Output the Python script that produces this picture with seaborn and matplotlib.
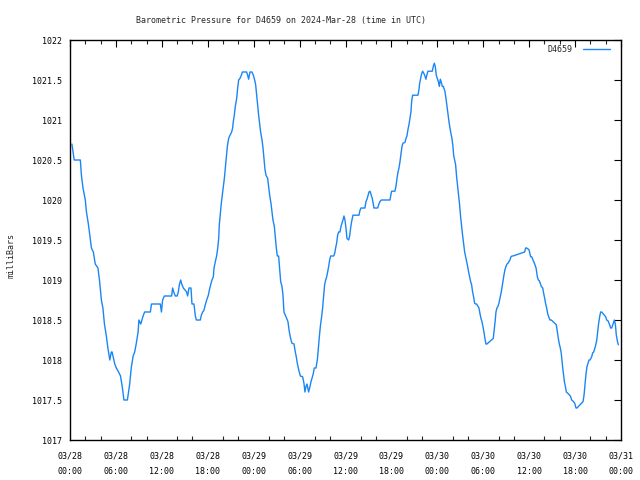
import numpy as np
import pandas as pd
import matplotlib
matplotlib.use("Agg")
import matplotlib.pyplot as plt
import seaborn as sns

# ---- data (hours since 2024-03-28 00:00 UTC, pressure in mbar) ----
hours = [
    0.25, 0.4, 0.55, 1.35, 1.5, 1.7, 2.0, 2.15, 2.4, 2.6, 2.8, 3.05, 3.3, 3.65, 3.85,
    4.1, 4.3, 4.5, 4.75, 4.95, 5.2, 5.4, 5.5, 5.85, 6.05, 6.35, 6.6, 6.85, 7.05, 7.5,
    7.65, 7.8, 8.0, 8.25, 8.45, 8.65, 8.9, 9.0, 9.25, 9.4, 9.55, 9.75, 10.5, 10.65,
    11.8, 11.95, 12.1,
    12.33, 13.28, 13.41, 13.55, 13.76, 14.0, 14.15, 14.29, 14.46, 14.6, 14.81, 15.24,
    15.37, 15.55, 15.81, 15.94, 16.2, 16.38, 16.51, 17.03, 17.16, 17.33, 17.5, 17.68,
    17.86, 18.08, 18.2, 18.38, 18.55, 18.73, 18.82, 18.99, 19.16, 19.29, 19.43, 19.51,
    19.64, 19.77, 19.9, 20.04, 20.17, 20.3, 20.43, 20.56, 20.73, 20.91, 21.12, 21.25,
    21.34, 21.47, 21.6, 21.78, 21.91, 22.04, 22.21, 22.39, 22.52, 23.08, 23.21, 23.34,
    23.52, 23.78, 23.96, 24.13, 24.26, 24.39, 24.52, 24.65, 24.78, 24.91, 25.09, 25.22,
    25.35, 25.48, 25.61, 25.83, 25.96, 26.09, 26.26, 26.39, 26.52, 26.7, 26.83, 26.96,
    27.09, 27.26, 27.39, 27.53, 27.7, 27.83, 27.96, 28.14, 28.31, 28.48, 28.66, 28.83,
    29.0, 29.27, 29.44, 29.57, 29.7, 29.88, 30.1, 30.4, 30.57, 30.7, 30.84, 30.97, 31.1,
    31.18, 31.36, 31.49, 31.62, 31.79, 31.92, 32.14, 32.32, 32.49, 32.62, 32.75, 32.88,
    33.01, 33.14, 33.27, 33.41, 33.54, 33.67, 33.8, 33.93, 34.06, 34.45, 34.58, 34.71,
    34.84, 34.97, 35.1, 35.28, 35.41, 35.54, 35.67, 35.8, 35.93, 36.06, 36.19, 36.41,
    36.54, 36.67, 36.8, 36.98, 37.76, 37.89, 38.02, 38.54, 38.67, 38.81, 39.07, 39.2,
    39.37, 39.5, 39.72, 40.2, 40.33, 40.5, 40.68, 41.81, 41.94, 42.03, 42.46, 42.59,
    42.73, 42.86, 42.99, 43.12, 43.25, 43.38, 43.51, 43.77, 43.9, 44.03, 44.16, 44.29,
    44.42, 44.55, 44.64, 44.77, 45.47, 45.6, 45.69, 45.82, 45.95, 46.08, 46.25, 46.38,
    46.51, 46.65, 46.78, 47.34, 47.47, 47.6, 47.73, 47.86, 47.99, 48.13, 48.26, 48.39,
    48.52, 48.65, 48.78, 48.99, 49.13, 49.26, 49.39, 49.52, 49.65, 49.78, 49.91, 50.04,
    50.13, 50.26, 50.39, 50.52, 50.65, 50.78, 50.91, 51.04, 51.17, 51.3, 51.44, 51.57,
    51.7, 51.83, 51.96, 52.09, 52.22, 52.35, 52.48, 52.61, 52.74, 52.87, 53.0, 53.13,
    53.44, 53.57, 53.7, 53.83, 53.96, 54.09, 54.22, 54.35, 54.48, 55.31, 55.44, 55.57,
    55.66, 55.79, 55.92, 56.05, 56.18, 56.31, 56.44, 56.57, 56.7, 56.84, 56.97, 57.1,
    57.23, 57.49, 57.62, 57.75, 57.88, 59.41, 59.54, 59.67, 59.97, 60.1, 60.2, 60.33,
    60.59, 60.72, 60.9, 61.07, 61.2, 61.33, 61.59, 61.77, 61.9, 62.03, 62.16, 62.29,
    62.42, 62.55, 62.72, 62.9, 63.55, 63.68, 63.81, 63.94, 64.07, 64.2, 64.34, 64.47,
    64.6, 64.73, 64.86, 64.99, 65.29, 65.42, 65.56, 65.69, 65.95, 66.12, 66.25, 67.04,
    67.17, 67.3, 67.43, 67.56, 67.69, 67.82, 67.95, 68.17, 68.3, 68.43, 68.65, 68.82,
    68.95, 69.08, 69.21, 69.34, 69.48, 70.0, 70.13, 70.3, 70.52, 70.65, 70.78, 71.0,
    71.13, 71.26, 71.39, 71.52, 71.65, 71.78,
]
pressure = [
    1020.7, 1020.6, 1020.5, 1020.5, 1020.3, 1020.15, 1020.0, 1019.85, 1019.7, 1019.55,
    1019.4, 1019.35, 1019.2, 1019.15, 1019.0, 1018.75, 1018.65, 1018.45, 1018.3,
    1018.15, 1018.0, 1018.1, 1018.1, 1017.95, 1017.9, 1017.85, 1017.8, 1017.65, 1017.5,
    1017.5, 1017.6, 1017.7, 1017.9, 1018.05, 1018.1, 1018.2, 1018.35, 1018.5, 1018.45,
    1018.5, 1018.55, 1018.6, 1018.6, 1018.7, 1018.7, 1018.6, 1018.75,
    1018.8, 1018.8, 1018.9, 1018.85, 1018.8, 1018.8, 1018.85, 1018.94, 1019.0, 1018.95,
    1018.9, 1018.85, 1018.8, 1018.9, 1018.9, 1018.7, 1018.7, 1018.55, 1018.5, 1018.5,
    1018.56, 1018.6, 1018.62, 1018.69, 1018.75, 1018.81, 1018.87, 1018.94, 1019.0,
    1019.04, 1019.15, 1019.23, 1019.3, 1019.39, 1019.52, 1019.69, 1019.83, 1019.96,
    1020.06, 1020.17, 1020.27, 1020.4, 1020.54, 1020.67, 1020.77, 1020.81, 1020.85,
    1020.9, 1020.98, 1021.06, 1021.17, 1021.27, 1021.4, 1021.5, 1021.52, 1021.56,
    1021.6, 1021.6, 1021.56, 1021.51, 1021.6, 1021.6, 1021.56, 1021.5, 1021.44,
    1021.31, 1021.17, 1021.06, 1020.96, 1020.85, 1020.75, 1020.65, 1020.52, 1020.38,
    1020.31, 1020.27, 1020.17, 1020.06, 1019.96, 1019.85, 1019.75, 1019.67, 1019.53,
    1019.4, 1019.3, 1019.3, 1019.15, 1018.98, 1018.92, 1018.81, 1018.6, 1018.56,
    1018.52, 1018.48, 1018.35, 1018.27, 1018.21, 1018.2, 1018.1, 1018.04, 1017.96,
    1017.88, 1017.8, 1017.79, 1017.71, 1017.6, 1017.67, 1017.7, 1017.64, 1017.6,
    1017.67, 1017.73, 1017.77, 1017.83, 1017.9, 1017.9, 1018.0, 1018.19, 1018.33,
    1018.45, 1018.54, 1018.65, 1018.79, 1018.94, 1019.0, 1019.04, 1019.1, 1019.17,
    1019.25, 1019.3, 1019.3, 1019.33, 1019.4, 1019.46, 1019.56, 1019.6, 1019.6,
    1019.67, 1019.71, 1019.75, 1019.8, 1019.75, 1019.65, 1019.52, 1019.5, 1019.55,
    1019.65, 1019.73, 1019.81, 1019.81, 1019.87, 1019.9, 1019.9, 1019.98, 1020.01,
    1020.1, 1020.11, 1020.06, 1020.02, 1019.9, 1019.9, 1019.94, 1019.98, 1020.0,
    1020.0, 1020.07, 1020.11, 1020.11, 1020.17, 1020.27, 1020.35, 1020.4, 1020.48,
    1020.58, 1020.67, 1020.71, 1020.72, 1020.77, 1020.8, 1020.88, 1020.94, 1021.02,
    1021.1, 1021.23, 1021.31, 1021.31, 1021.38, 1021.46, 1021.52, 1021.58, 1021.61,
    1021.58, 1021.55, 1021.51, 1021.57, 1021.61, 1021.61, 1021.67, 1021.71, 1021.67,
    1021.56, 1021.52, 1021.48, 1021.42, 1021.51, 1021.47, 1021.42, 1021.42, 1021.36,
    1021.27, 1021.17, 1021.06, 1020.98, 1020.9, 1020.83, 1020.77, 1020.67, 1020.56,
    1020.5, 1020.44, 1020.29, 1020.17, 1020.06, 1019.94, 1019.79, 1019.67, 1019.56,
    1019.45, 1019.35, 1019.29, 1019.23, 1019.17, 1019.1, 1019.04, 1018.98, 1018.94,
    1018.85, 1018.79, 1018.71, 1018.7, 1018.7, 1018.65, 1018.58, 1018.52, 1018.48,
    1018.42, 1018.35, 1018.27, 1018.2, 1018.2, 1018.27, 1018.38, 1018.5, 1018.6,
    1018.65, 1018.67, 1018.71, 1018.77, 1018.83, 1018.9, 1018.98, 1019.06, 1019.13,
    1019.17, 1019.2, 1019.21, 1019.25, 1019.29, 1019.3, 1019.3, 1019.35, 1019.4,
    1019.4, 1019.38, 1019.33, 1019.29, 1019.29, 1019.23, 1019.2, 1019.15, 1019.04,
    1019.0, 1018.99, 1018.92, 1018.9, 1018.83, 1018.77, 1018.7, 1018.65, 1018.58,
    1018.54, 1018.5, 1018.5, 1018.44, 1018.35, 1018.27, 1018.2, 1018.15, 1018.08,
    1017.94, 1017.83, 1017.73, 1017.67, 1017.6, 1017.59, 1017.56, 1017.54, 1017.5,
    1017.49, 1017.46, 1017.4, 1017.4, 1017.48, 1017.56, 1017.69, 1017.83, 1017.92,
    1017.96, 1018.0, 1018.0, 1018.04, 1018.09, 1018.1, 1018.17, 1018.24, 1018.35,
    1018.46, 1018.54, 1018.6, 1018.6, 1018.54, 1018.5, 1018.49, 1018.44, 1018.4,
    1018.4, 1018.46, 1018.5, 1018.45, 1018.31, 1018.24, 1018.19,
]
start = pd.Timestamp("2024-03-28 00:00")
xtick_labels = ["03/28\n00:00", "03/28\n06:00", "03/28\n12:00", "03/28\n18:00",
                "03/29\n00:00", "03/29\n06:00", "03/29\n12:00", "03/29\n18:00",
                "03/30\n00:00", "03/30\n06:00", "03/30\n12:00", "03/30\n18:00",
                "03/31\n00:00"]
ytick_values = [1017, 1017.5, 1018, 1018.5, 1019, 1019.5, 1020, 1020.5, 1021, 1021.5, 1022]
ytick_labels = ["1017", "1017.5", "1018", "1018.5", "1019", "1019.5", "1020",
                "1020.5", "1021", "1021.5", "1022"]
series_name = "D4659"
title = "Barometric Pressure for D4659 on 2024-Mar-28 (time in UTC)"

n = min(len(hours), len(pressure))
df = pd.DataFrame({
    "time": start + pd.to_timedelta(np.array(hours[:n]), unit="h"),
    "mbar": pressure[:n],
    "station": series_name,
})

sns.set_style("white")
plt.rcParams["font.family"] = ["DejaVu Sans Mono"]
FS = 6.0

fig = plt.figure(figsize=(6.4, 4.8), dpi=100)
ax = fig.add_axes([70 / 640, 40 / 480, 551 / 640, 400 / 480])
sns.lineplot(data=df, x="time", y="mbar", hue="station", palette=["#1a86f5"],
             linewidth=1.0, ax=ax, estimator=None, sort=False)

ax.set_xlim(start, start + pd.Timedelta(hours=72))
ax.set_ylim(1017, 1022)
major = [start + pd.Timedelta(hours=6 * i) for i in range(13)]
minor = [start + pd.Timedelta(hours=2 * i) for i in range(37)]
ax.set_xticks(major)
ax.set_xticklabels(xtick_labels, fontsize=FS, linespacing=2.0)
ax.set_xticks(minor, minor=True)
ax.set_yticks(ytick_values)
ax.set_yticklabels(ytick_labels, fontsize=FS)
ax.tick_params(axis="both", which="major", direction="in", length=5, width=0.8,
               top=True, right=True, pad=6, colors="black")
ax.tick_params(axis="x", which="major", pad=8)
ax.tick_params(axis="x", which="minor", direction="in", length=3, width=0.8,
               top=True, bottom=True)
for s in ax.spines.values():
    s.set_visible(True)
    s.set_color("black")
    s.set_linewidth(1.0)
ax.set_xlabel("")
ax.set_ylabel("")
ax.grid(False)

fig.text(11 / 640, 1 - 255 / 480, "milliBars", rotation=90, fontsize=FS,
         ha="center", va="center")
fig.text(281 / 640, 1 - 20 / 480, title, fontsize=FS, ha="center", va="center")

leg = ax.legend(loc="upper right", bbox_to_anchor=((610 - 70) / 551, (440 - 45) / 400),
                frameon=False, markerfirst=False, fontsize=FS,
                handlelength=3.3, handletextpad=1.2, borderaxespad=0, borderpad=0)
for line in leg.get_lines():
    line.set_linewidth(1.0)

fig.savefig("out.png", dpi=100)
